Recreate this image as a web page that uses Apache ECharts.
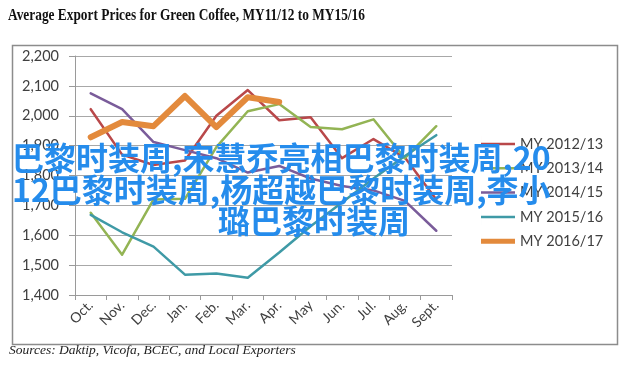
<!DOCTYPE html>
<html>
<head>
<meta charset="utf-8">
<script src="https://cdn.jsdelivr.net/npm/echarts@6/dist/echarts.min.js"></script>
<style>
html,body{margin:0;padding:0;background:#fff;}
#chart{width:628px;height:372px;}
</style>
</head>
<body>
<div id="chart"></div>
<script>
const categories = ['Oct.', 'Nov.', 'Dec.', 'Jan.', 'Feb.', 'Mar.', 'Apr.', 'May', 'Jun.', 'Jul.', 'Aug.', 'Sept.'];
const my201213 = [2022, 1870, 1835, 1850, 2000, 2086, 1985, 1995, 1858, 1922, 1860, 1720];
const my201314 = [1675, 1535, 1720, 1722, 1895, 2015, 2039, 1962, 1955, 1988, 1858, 1965];
const my201415 = [2075, 2022, 1912, 1885, 1858, 1810, 1832, 1790, 1765, 1750, 1715, 1615];
const my201516 = [1668, 1610, 1562, 1468, 1472, 1458, 1542, 1630, 1710, 1790, 1865, 1935];
const my201617 = [1928, 1979, 1965, 2066, 1962, 2062, 2046, null, null, null, null, null];
const seriesNames = ['MY 2012/13', 'MY 2013/14', 'MY 2014/15', 'MY 2015/16', 'MY 2016/17'];
const yTicks = [1400, 1500, 1600, 1700, 1800, 1900, 2000, 2100, 2200];
const titleText = 'Average Export Prices for Green Coffee, MY11/12 to MY15/16';
const sourceText = 'Sources: Daktip, Vicofa, BCEC, and Local Exporters';
const overlayLines = ['巴黎时装周,宋慧乔亮相巴黎时装周,20', '12巴黎时装周,杨超越巴黎时装周,李小', '璐巴黎时装周'];

const colors = ['#b9484a', '#93b454', '#7a5c9a', '#3f9aa6', '#e38a3c'];
const widths = [2.5, 2.5, 2.5, 2.5, 6];
const allData = [my201213, my201314, my201415, my201516, my201617];

// legend icon: a horizontal bar of given thickness inside a 34x16 box
function barIcon(t) {
  const y0 = (16 - t) / 2;
  return 'path://M0,' + y0 + 'H34V' + (y0 + t) + 'H0Z M0,0H0.01V16H0Z';
}

const chart = echarts.init(document.getElementById('chart'), null, {renderer: 'canvas'});
const labelFont = 'Lato';

chart.setOption({
  animation: false,
  backgroundColor: '#fff',
  grid: {left: 75, right: 176, top: 56, bottom: 77, containLabel: false},
  legend: {
    orient: 'vertical',
    left: 476,
    top: 131,
    itemWidth: 34,
    itemHeight: 16,
    itemGap: 8.3,
    textStyle: {fontFamily: labelFont, fontSize: 14.5, color: '#404040', lineHeight: 16},
    data: seriesNames.map((n, i) => ({name: n, icon: barIcon(i === 4 ? 5 : 2.5)}))
  },
  xAxis: {
    type: 'category',
    data: categories,
    boundaryGap: true,
    axisLine: {lineStyle: {color: '#9a9a9a', width: 1}},
    axisTick: {show: true, length: 5, lineStyle: {color: '#9a9a9a'}},
    axisLabel: {rotate: 45, margin: 8, fontFamily: labelFont, fontSize: 14, color: '#404040', interval: 0},
    splitLine: {show: false}
  },
  yAxis: {
    type: 'value',
    min: 1400,
    max: 2200,
    interval: 100,
    axisLine: {show: true, lineStyle: {color: '#9a9a9a', width: 1}},
    axisTick: {show: true, length: 6, lineStyle: {color: '#9a9a9a'}},
    axisLabel: {margin: 16, fontFamily: labelFont, fontSize: 14.5, color: '#404040',
      formatter: v => v.toLocaleString('en-US')},
    splitLine: {show: true, lineStyle: {color: '#a8a8a8', width: 1}}
  },
  series: seriesNames.map((n, i) => ({
    name: n,
    type: 'line',
    data: allData[i],
    symbol: 'none',
    smooth: false,
    color: colors[i],
    lineStyle: {color: colors[i], width: widths[i], join: 'round', cap: 'round'},
    z: 2 + i
  })),
  graphic: [
    {type: 'rect', left: 10, top: 43, z: 0, silent: true,
      shape: {width: 605, height: 299},
      style: {fill: 'none', stroke: '#8c8c8c', lineWidth: 1.5}},
    {type: 'text', x: 8, y: 7, scaleX: 0.81, z: 10,
      style: {text: titleText, x: 0, y: 0, font: 'bold 16.5px "Liberation Serif"', fill: '#111',
        align: 'left', verticalAlign: 'top', textAlign: 'left', textVerticalAlign: 'top'}},
    {type: 'text', left: 9, top: 343, z: 10,
      style: {text: sourceText, font: 'italic 13.5px "Liberation Serif"', fill: '#222'}},
    {type: 'text', left: 12, top: 142, z: 100,
      style: {text: overlayLines[0], font: 'bold 32px "Noto Sans CJK SC"', fill: '#258cec'}},
    {type: 'text', left: 12, top: 174, z: 100,
      style: {text: overlayLines[1], font: 'bold 32px "Noto Sans CJK SC"', fill: '#258cec'}},
    {type: 'text', left: 218, top: 205, z: 100,
      style: {text: overlayLines[2], font: 'bold 32px "Noto Sans CJK SC"', fill: '#258cec'}}
  ]
});
</script>
</body>
</html>
